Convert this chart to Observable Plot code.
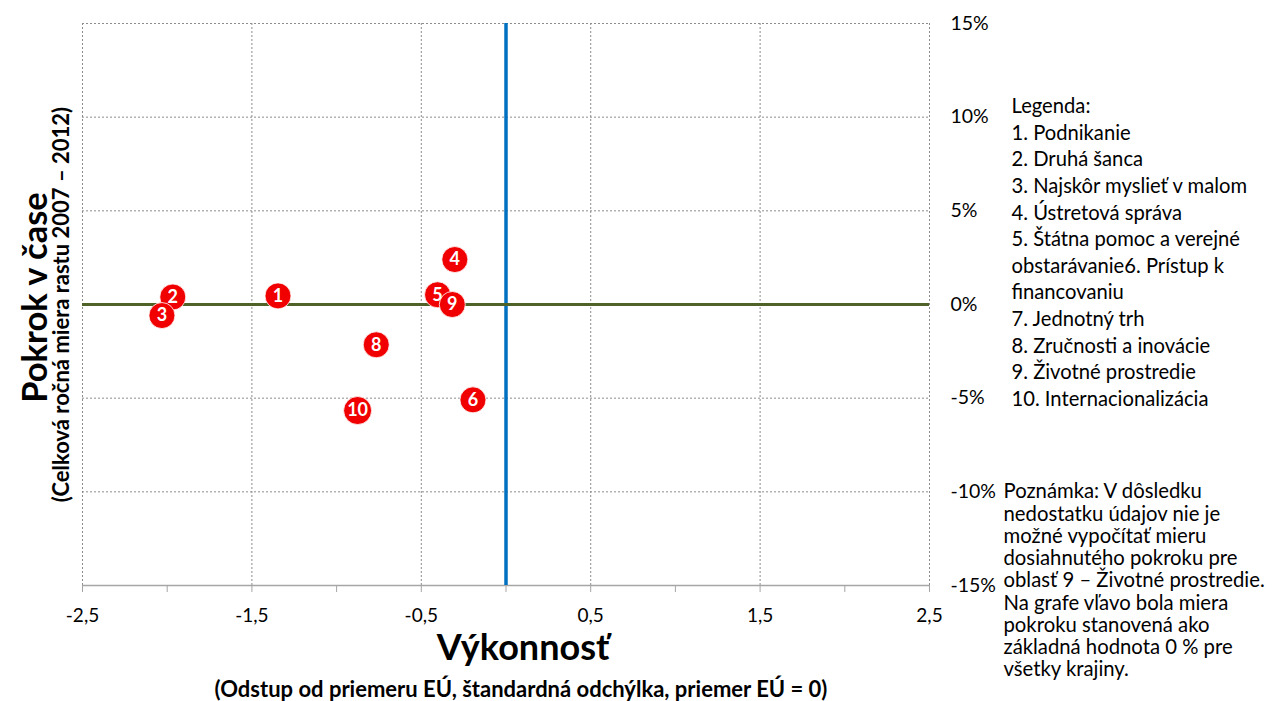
<!DOCTYPE html>
<html>
<head>
<meta charset="utf-8">
<script src="https://cdn.jsdelivr.net/npm/d3@7"></script>
<script src="https://cdn.jsdelivr.net/npm/@observablehq/plot@0.6"></script>
<style>
  html, body { margin: 0; padding: 0; background: #fff; }
  #chart svg { display: block; }
</style>
</head>
<body>
<div id="chart"></div>
<script>
// ---- data ----
const ids = ["1", "2", "3", "4", "5", "6", "8", "9", "10"];
const vykonnost = [-1.346, -1.967, -2.031, -0.302, -0.404, -0.195, -0.766, -0.317, -0.876];
const pokrok = [0.46, 0.40, -0.59, 2.40, 0.52, -5.09, -2.15, 0, -5.66];
const xTicks = [-2.5, -1.5, -0.5, 0.5, 1.5, 2.5];
const xMinorTicks = [-2, -1, 0, 1, 2];
const yTicks = [15, 10, 5, 0, -5, -10, -15];
const legendLines = [
  "Legenda:",
  "1. Podnikanie",
  "2. Druhá šanca",
  "3. Najskôr myslieť v malom",
  "4. Ústretová správa",
  "5. Štátna pomoc a verejné",
  "obstarávanie6. Prístup k",
  "financovaniu",
  "7. Jednotný trh",
  "8. Zručnosti a inovácie",
  "9. Životné prostredie",
  "10. Internacionalizácia"
];
const noteLines = [
  "Poznámka: V dôsledku",
  "nedostatku údajov nie je",
  "možné vypočítať mieru",
  "dosiahnutého pokroku pre",
  "oblasť 9 – Životné prostredie.",
  "Na grafe vľavo bola miera",
  "pokroku stanovená ako",
  "základná hodnota 0 % pre",
  "všetky krajiny."
];
const xTitle = "Výkonnosť";
const xSubtitle = "(Odstup od priemeru EÚ, štandardná odchýlka, priemer EÚ = 0)";
const yTitle = "Pokrok v čase";
const ySubtitle = "(Celková ročná miera rastu 2007 – 2012)";

const points = ids.map((id, i) => ({id, x: vykonnost[i], y: pokrok[i]}));
const commaFmt = d => String(d).replace(".", ",");

const chart = Plot.plot({
  width: 1276,
  height: 701,
  marginLeft: 82,
  marginRight: 347,
  marginTop: 23,
  marginBottom: 116,
  x: {domain: [-2.5, 2.5]},
  y: {domain: [-15, 15]},
  r: {type: "identity"},
  style: {fontFamily: "Lato, 'Open Sans', sans-serif", background: "#fff", color: "#000"},
  marks: [
    Plot.gridX(xTicks, {stroke: "#8c8c8c", strokeOpacity: 1, strokeDasharray: "2,2"}),
    Plot.gridY(yTicks, {stroke: "#8c8c8c", strokeOpacity: 1, strokeDasharray: "2,2"}),
    Plot.ruleY([-15], {stroke: "#a6a6a6", strokeWidth: 1.5}),
    Plot.axisX(xTicks, {tickFormat: commaFmt, tickSize: 7, tickPadding: 16, fontSize: 19, stroke: "#a6a6a6", label: null}),
    Plot.axisX(xMinorTicks, {tickFormat: () => "", tickSize: 7, stroke: "#a6a6a6", label: null}),
    Plot.axisY(yTicks, {anchor: "right", tickSize: 0, tickPadding: 21, textAnchor: "start", tickFormat: d => d + "%", fontSize: 19.5, label: null}),
    Plot.ruleX([0], {stroke: "#0070C0", strokeWidth: 3.5}),
    Plot.ruleY([0], {stroke: "#4F6228", strokeWidth: 3}),
    Plot.dot(points, {x: "x", y: "y", r: d => d.id.length > 1 ? 14 : 13, fill: "#f00000", stroke: "#fff", strokeWidth: 0.8}),
    Plot.text(points, {x: "x", y: "y", text: "id", fill: "#fff", fontWeight: "bold", fontSize: 18}),
    Plot.text([legendLines.join("\n")], {frameAnchor: "top-right", textAnchor: "start", lineAnchor: "middle", dx: 82, dy: 227.5, fontSize: 20.2, lineHeight: 1.319, fill: "#000"}),
    Plot.text([noteLines.join("\n")], {frameAnchor: "top-right", textAnchor: "start", lineAnchor: "middle", dx: 74, dy: 556.7, fontSize: 20.3, lineHeight: 1.094, fill: "#000"}),
    Plot.text([xTitle], {frameAnchor: "bottom", textAnchor: "middle", dx: 17, dy: 63, lineAnchor: "middle", fontSize: 36, fontWeight: "bold", fill: "#000"}),
    Plot.text([xSubtitle], {frameAnchor: "bottom", textAnchor: "middle", dx: 15, dy: 104, lineAnchor: "middle", fontSize: 22, fontWeight: "bold", fill: "#000"}),
    Plot.text([yTitle], {frameAnchor: "left", textAnchor: "middle", dx: -47, dy: -7, rotate: -90, lineAnchor: "middle", fontSize: 34.5, fontWeight: "bold", fill: "#000"}),
    Plot.text([ySubtitle], {frameAnchor: "left", textAnchor: "middle", dx: -21, dy: 0, rotate: -90, lineAnchor: "middle", fontSize: 22, fontWeight: "bold", fill: "#000"})
  ]
});
document.getElementById("chart").appendChild(chart);
</script>
</body>
</html>
